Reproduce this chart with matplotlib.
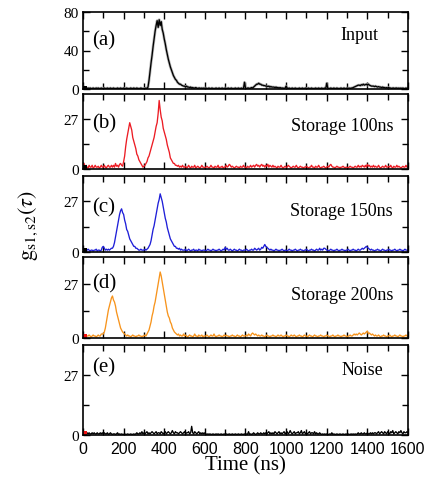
import numpy as np
import matplotlib
matplotlib.use('Agg')
import matplotlib.pyplot as plt
from matplotlib.ticker import MultipleLocator, FixedLocator

plt.rcParams['font.family'] = 'Liberation Serif'
plt.rcParams['mathtext.fontset'] = 'stix'

# time axis, 5 ns bins from 0 to 1600 ns
t = np.arange(0, 1605, 5)

# (a) input pulse
g_input = [
    3, 2, 1.5, 1, 0.5, 1, 0.5, 1, 0.5, 0.5, 1, 0.5, 0.5, 1, 0.5, 1, 0.5, 0.5, 1, 0.5,
    0.5, 1, 0.5, 0.5, 1, 0.5, 0.5, 1, 0.5, 0.5, 1, 0.5, 0.5, 0.5, 1, 0.5, 0.5, 1, 0.5, 0.5,
    1, 0.5, 0.5, 1, 0.5, 0.5, 0.5, 1, 0.5, 0.5, 1, 0.5, 0.5, 1, 0.5, 0.5, 0.5, 1, 0.5, 0.5,
    0.5, 0.5, 1, 0.5, 2, 9, 18, 27, 35, 44, 52, 60, 66, 71, 64, 72, 66, 70, 62, 58,
    52, 47, 41, 36, 31, 27, 23, 20, 17, 14, 12, 10, 9, 7, 6, 5, 5, 4, 3.5, 3,
    3, 2, 3, 2, 2, 1.5, 2, 1, 1.5, 1, 1, 1.5, 1, 0.5, 1, 1, 0.5, 1, 0.5, 1,
    0.5, 1, 0.5, 0.5, 1, 0.5, 0.5, 1, 0.5, 0.5, 0.5, 1, 0.5, 0.5, 1, 0.5, 0.5, 1, 0.5, 0.5,
    1, 0.5, 0.5, 1, 0.5, 0.5, 1, 0.5, 0.5, 0.5, 1, 0.5, 0.5, 1, 0.5, 0.5, 1, 0.5, 0.5, 7,
    1, 0.5, 1, 1, 0.5, 1, 1.5, 1, 2, 3, 4, 5, 5, 6, 5, 5, 4, 4, 3.5, 3.5,
    3, 3, 2.5, 3, 2, 2.5, 2, 2, 2, 1.5, 2, 1.5, 1.5, 1, 1.5, 1, 1, 1, 0.5, 1,
    3, 1, 0.5, 1, 0.5, 0.5, 1, 0.5, 0.5, 1, 0.5, 0.5, 0.5, 1, 0.5, 0.5, 1, 0.5, 0.5, 1,
    0.5, 0.5, 1, 0.5, 0.5, 1, 0.5, 0.5, 0.5, 1, 0.5, 0.5, 1, 0.5, 0.5, 1, 0.5, 0.5, 1, 0.5,
    6, 1, 0.5, 0.5, 1, 0.5, 0.5, 1, 0.5, 0.5, 1, 0.5, 0.5, 0.5, 1, 0.5, 0.5, 1, 0.5, 0.5,
    1, 0.5, 1, 0.5, 1, 1, 1.5, 2, 2.5, 3, 3.5, 4, 4, 3.5, 4.5, 4, 5, 4, 4.5, 5,
    4, 5, 4, 3.5, 3, 3, 3, 2.5, 3, 2.5, 2, 2.5, 2, 2, 1.5, 2, 1.5, 1.5, 1, 1.5,
    1, 1.5, 1, 1, 0.5, 1, 1, 0.5, 1, 1, 0.5, 1, 0.5, 1, 0.5, 1, 0.5, 0.5, 1, 0.5,
    1,
]

# (b) storage 100 ns
g_100 = [
    2, 3, 1, 2, 1, 0.5, 2, 1, 1, 2, 0.5, 1, 2, 1, 1, 1.5, 0.5, 1, 2, 1,
    1, 2, 1, 0.5, 1.5, 2, 1, 1, 2, 1, 2, 1, 3, 1.5, 2, 1, 2.5, 3, 2, 1.5,
    4, 7, 12, 16, 19, 22, 25, 23, 21, 17, 15, 13, 11, 8, 7, 5, 4, 3, 2, 1,
    1.5, 2, 3, 4, 6, 7, 9, 11, 13, 15, 17, 20, 23, 25, 30, 37, 32, 28, 26, 22,
    20, 18, 16, 13, 11, 9, 6, 5, 4, 3, 3, 2, 2, 1.5, 2, 1, 1.5, 1, 2, 1,
    1, 1.5, 0.5, 1, 2, 1, 0.5, 1.5, 1, 1, 2, 0.5, 1, 1.5, 1, 0.5, 1, 2, 1, 1,
    0.5, 1, 1.5, 1, 0.5, 1, 2, 1, 1, 0.5, 1.5, 1, 1, 2, 0.5, 1, 1, 1.5, 0.5, 1,
    1, 2, 1, 1.5, 2.5, 2, 1, 1.5, 1, 0.5, 1, 1.5, 1, 1, 0.5, 1.5, 1, 1, 2, 1,
    1, 0.5, 1.5, 1, 1, 2, 1, 1.5, 2, 1, 2, 2.5, 1.5, 2, 1, 2, 2.5, 1.5, 2, 1,
    2, 1.5, 2.5, 1, 2, 1.5, 1, 2, 1, 1.5, 1, 0.5, 1.5, 1, 1, 2, 1, 0.5, 1, 1.5,
    1, 1, 2, 1.5, 1, 0.5, 1, 1.5, 1, 1, 2, 1, 0.5, 1, 1.5, 1, 1, 0.5, 1, 1,
    1.5, 1, 0.5, 1, 1, 2, 1, 1, 0.5, 1.5, 1, 1, 2, 1, 0.5, 1, 1, 1.5, 1, 0.5,
    1, 1.5, 1, 2, 2.5, 1.5, 1, 1, 0.5, 1, 1.5, 1, 1, 0.5, 1, 1, 1.5, 1, 0.5, 1,
    1, 0.5, 1, 1.5, 1, 1, 0.5, 1, 1.5, 1, 1, 2, 1, 1.5, 1, 2, 1.5, 1, 2, 1,
    2.5, 1.5, 2, 1, 1.5, 1, 2, 1, 1.5, 1, 1, 2, 1, 0.5, 1, 1.5, 1, 1, 2, 1,
    1, 1.5, 1, 2, 1, 0.5, 1.5, 1, 1, 2, 1, 1.5, 1, 0.5, 1, 1.5, 1, 1, 2, 1,
    1,
]

# (c) storage 150 ns
g_150 = [
    2, 1, 1, 0.5, 1, 1.5, 1, 0.5, 1, 1, 0.5, 1, 1, 1.5, 0.5, 1, 1, 0.5, 1, 2.5,
    3, 2, 1, 1.5, 1, 1.5, 1, 1.5, 2, 2, 3, 5, 8, 11, 14, 17, 20, 22, 23, 21,
    20, 17, 15, 12, 11, 9, 7, 6, 5, 4, 3, 3, 2, 2, 1.5, 1, 1, 1.5, 1, 1,
    1, 1.5, 1, 1.5, 2, 3, 4, 6, 9, 12, 14, 17, 20, 23, 26, 28, 31, 29, 27, 24,
    21, 18, 16, 13, 11, 9, 7, 6, 5, 4, 3, 3, 2, 2, 1.5, 2, 1, 1.5, 1, 1,
    1, 1.5, 0.5, 1, 1.5, 1, 0.5, 1, 1, 1.5, 0.5, 1, 1, 0.5, 1.5, 1, 1, 0.5, 1, 1,
    1, 0.5, 1, 1.5, 1, 1, 0.5, 1, 1.5, 1, 1, 0.5, 1, 1, 1.5, 1, 0.5, 1, 1.5, 1,
    2.5, 1.5, 2, 1, 1, 1.5, 1, 0.5, 1, 1.5, 1, 1, 0.5, 1, 1.5, 1, 1, 0.5, 1, 1,
    1, 1.5, 1, 0.5, 1, 1, 1.5, 1, 1, 2, 1.5, 1, 1.5, 2, 1, 1.5, 2.5, 2, 3, 4,
    3, 2.5, 2, 1.5, 1, 1.5, 1, 1, 0.5, 1, 1.5, 1, 1, 0.5, 1, 1, 1.5, 1, 0.5, 1,
    1, 0.5, 1, 1.5, 1, 1, 0.5, 1, 1, 1.5, 1, 0.5, 1, 1, 1.5, 1, 1, 0.5, 1, 1,
    1.5, 1, 0.5, 1, 1, 1.5, 1, 1, 0.5, 1, 1.5, 1, 1, 2, 1, 1.5, 1, 2, 2, 1.5,
    1, 1, 0.5, 1, 1.5, 1, 1, 0.5, 1, 1, 1.5, 1, 0.5, 1, 1, 1.5, 1, 1, 0.5, 1,
    1, 1.5, 1, 0.5, 1, 1, 1.5, 1, 1, 0.5, 1, 1.5, 1, 1, 1.5, 2, 1.5, 2, 2.5, 3,
    2.5, 2, 1.5, 1, 1.5, 1, 1, 0.5, 1, 1, 1.5, 1, 1, 0.5, 1, 1.5, 1, 1, 0.5, 1,
    1, 1.5, 1, 1, 0.5, 1, 1, 1.5, 1, 0.5, 1, 1, 1.5, 1, 1, 0.5, 1, 1.5, 1, 1,
    1,
]

# (d) storage 200 ns
g_200 = [
    1, 1.5, 1, 0.5, 1, 1, 1.5, 1, 0.5, 1, 1.5, 1, 1, 0.5, 1, 1.5, 1, 1, 2, 2,
    2, 3, 5, 8, 11, 14, 16, 18, 20, 21, 19, 18, 16, 13, 11, 9, 7, 5, 4, 3,
    2.5, 2, 1.5, 1, 1.5, 1, 1, 0.5, 1, 1.5, 1, 1, 0.5, 1, 1, 1.5, 1, 1, 0.5, 1,
    1, 1.5, 1, 2, 3, 4, 6, 8, 11, 13, 16, 18, 21, 24, 27, 30, 33, 31, 28, 25,
    22, 19, 16, 13, 11, 10, 8, 7, 5, 4, 3, 2.5, 2, 1.5, 2, 1, 1.5, 1, 1, 2,
    1, 1.5, 1, 0.5, 1, 1.5, 1, 1, 0.5, 1, 2, 1, 1, 0.5, 1.5, 1, 1, 1.5, 0.5, 1,
    1, 1, 1.5, 1, 0.5, 1, 1.5, 1, 1, 2, 1, 0.5, 1, 1, 1.5, 1, 1, 0.5, 1, 1.5,
    1, 1.5, 1, 1, 0.5, 1, 1, 1.5, 1, 1, 0.5, 1, 1.5, 1, 1, 0.5, 1, 1.5, 1, 1,
    1, 1.5, 1, 2, 1.5, 1, 2, 2.5, 2, 1.5, 2, 1.5, 1, 1.5, 1, 1, 1.5, 1, 1, 0.5,
    1, 1.5, 1, 1, 0.5, 1, 1, 1.5, 1, 1, 0.5, 1, 1.5, 1, 1, 1.5, 1, 0.5, 1, 1,
    1.5, 1, 1, 0.5, 1, 1.5, 1, 1, 1.5, 1, 0.5, 1, 1, 1.5, 1, 1, 0.5, 1, 1.5, 1,
    1, 0.5, 1, 1.5, 1, 1, 0.5, 1, 1.5, 1, 1, 0.5, 1, 1, 1.5, 1, 1, 0.5, 1, 1,
    1.5, 1, 1, 0.5, 1, 1, 1.5, 1, 0.5, 1, 1, 1.5, 1, 1, 0.5, 1, 1, 1.5, 1, 1,
    0.5, 1, 1, 1.5, 1, 1, 1.5, 2, 1.5, 2, 1.5, 2, 2.5, 2, 1.5, 2, 2.5, 2, 2.5, 3,
    3.5, 2, 2.5, 2, 1.5, 2, 1.5, 1, 1.5, 1, 1, 1.5, 1, 0.5, 1, 1, 1.5, 1, 1, 0.5,
    1, 1, 1.5, 1, 0.5, 1, 1, 1.5, 1, 1, 0.5, 1, 1.5, 1, 1, 0.5, 1, 1, 1.5, 1,
    1,
]

# (e) noise only
g_noise = [
    1, 1.5, 1, 0.5, 1, 0.5, 1, 0.5, 0.5, 1, 0.5, 1, 0.5, 0.5, 1, 0.5, 0.5, 1, 0.5, 1,
    0.5, 1, 0.5, 0.5, 1, 0.3, 0.5, 1, 0.5, 0.3, 0.5, 0.5, 0.3, 0.5, 1, 0.3, 0.5, 0.3, 0.5, 0.3,
    0.3, 0.5, 0.3, 0.3, 0.5, 0.3, 0.3, 0.5, 0.3, 0.3, 0.5, 0.3, 0.5, 1, 0.5, 0.5, 1, 0.5, 1.5, 0.5,
    1, 0.5, 1, 1.5, 0.5, 1, 0.5, 1, 1.5, 1, 0.5, 1, 1.5, 0.5, 1, 1, 0.5, 1.5, 1, 0.5,
    1, 1.5, 0.5, 1, 1.5, 1, 0.5, 1, 2, 1, 0.5, 1.5, 1, 1, 0.5, 1, 1.5, 1, 0.5, 1,
    1.5, 0.5, 1, 1, 1.5, 0.5, 1, 3.9, 1, 0.5, 1.5, 1, 0.5, 1, 1.5, 0.5, 1, 0.5, 1, 0.5,
    1, 0.5, 0.3, 0.5, 0.3, 0.5, 0.3, 0.3, 0.5, 0.3, 0.3, 0.5, 0.3, 0.5, 0.3, 0.3, 0.5, 0.3, 0.3, 0.5,
    0.3, 0.5, 0.3, 0.3, 0.5, 0.3, 0.3, 0.5, 0.3, 0.3, 0.5, 0.3, 0.3, 0.5, 0.3, 0.3, 0.5, 0.3, 0.3, 0.5,
    0.3, 0.5, 0.3, 1.5, 0.3, 0.5, 0.3, 0.5, 1, 0.5, 0.3, 0.5, 1, 0.5, 0.5, 1, 0.5, 0.5, 1, 0.5,
    1, 0.5, 1, 1.5, 0.5, 1, 0.5, 1, 0.5, 1.5, 1, 0.5, 1, 1.5, 0.5, 1, 0.5, 1, 1.5, 0.5,
    1, 1.5, 0.5, 1, 2, 1, 0.5, 1, 1.5, 0.5, 1, 1, 1.5, 0.5, 1, 2, 0.5, 1, 1.5, 0.5,
    1, 0.5, 1, 1.5, 0.5, 1, 1, 0.5, 1.5, 0.5, 1, 0.5, 0.5, 1, 0.5, 0.3, 0.5, 0.3, 0.5, 0.3,
    0.5, 0.3, 0.3, 0.5, 0.3, 1, 0.3, 0.5, 0.3, 0.3, 0.5, 0.3, 0.3, 0.5, 0.3, 0.3, 0.5, 0.3, 0.3, 0.5,
    0.3, 0.5, 0.3, 0.3, 0.5, 0.3, 0.5, 0.3, 0.5, 0.3, 0.5, 1, 0.5, 0.5, 1, 0.5, 0.5, 1, 0.5, 0.5,
    1, 0.5, 0.5, 1, 0.5, 1, 0.5, 1, 1, 0.5, 1, 1.5, 0.5, 1, 1.5, 1, 0.5, 1.5, 1, 0.5,
    1.5, 1, 0.5, 1.5, 1, 2, 0.5, 1, 1.5, 1, 0.5, 1.5, 1, 2, 1, 0.5, 1.5, 1, 1, 1.5,
    1,
]

series = [g_input, g_100, g_150, g_200, g_noise]
panel_tags = ['(a)', '(b)', '(c)', '(d)', '(e)']
panel_names = ['Input', 'Storage 100ns', 'Storage 150ns', 'Storage 200ns', 'Noise']
colors = ['black', '#ec1c24', '#1f1fd8', '#f7941d', 'black']
marker_colors = ['black', 'black', 'black', '#ee1111', '#ee1111']

# axes rectangles in figure pixels: (top, bottom)
W, H = 427, 485
rows = [(13, 90), (95, 170), (177, 253), (258, 339), (346, 436)]
tag_y = [0.64, 0.61, 0.60, 0.68, 0.76]
name_xy = [(0.908, 0.71), (0.954, 0.58), (0.954, 0.54), (0.954, 0.54), (0.923, 0.73)]

fig = plt.figure(figsize=(W / 100, H / 100), dpi=100)

for i, (top, bot) in enumerate(rows):
    ax = fig.add_axes([83 / W, 1 - bot / H, 325 / W, (bot - top) / H])
    y = np.array(series[i])
    if i == 0:
        # soft grey halo under the input trace
        ax.plot(t, y, color='0.65', lw=2.0, alpha=0.8)
    ax.plot(t, y, color=colors[i], lw=0.95)
    ax.plot(t[2], y[2], 's', ms=3.5, color=marker_colors[i], mew=0)

    ax.set_xlim(0, 1600)
    ax.xaxis.set_major_locator(MultipleLocator(200))
    ax.xaxis.set_minor_locator(MultipleLocator(100))
    if i == 0:
        ax.set_ylim(0, 80)
        ax.yaxis.set_major_locator(FixedLocator([0, 40, 80]))
        ax.yaxis.set_minor_locator(FixedLocator([20, 60]))
    else:
        ax.set_ylim(0, 40.5)
        ax.yaxis.set_major_locator(FixedLocator([0, 27]))
        ax.yaxis.set_minor_locator(FixedLocator([13.5]))

    ax.tick_params(which='both', direction='in', top=True, right=True, width=1.0)
    ax.tick_params(which='major', length=5)
    ax.tick_params(which='minor', length=4)
    ax.tick_params(axis='y', labelsize=11, pad=3)
    for s in ax.spines.values():
        s.set_linewidth(1.2)

    if i < len(rows) - 1:
        ax.tick_params(axis='x', labelbottom=False)
    else:
        ax.tick_params(axis='x', labelsize=11.5, pad=4)
        for lab in ax.get_xticklabels():
            lab.set_family('Liberation Sans')

    ax.text(0.028, tag_y[i], panel_tags[i], transform=ax.transAxes,
            fontsize=15, ha='left', va='center')
    ax.text(name_xy[i][0], name_xy[i][1], panel_names[i], transform=ax.transAxes,
            fontsize=13, ha='right', va='center')

fig.text(245 / W, 1 - 466 / H, 'Time (ns)', fontsize=15, ha='center', va='center')
fig.text(28 / W, 1 - 225 / H, r'$\mathrm{g}_{\mathrm{s1,s2}}(\tau)$', fontsize=16,
         rotation=90, ha='center', va='center')

fig.savefig('out.png', dpi=100)
